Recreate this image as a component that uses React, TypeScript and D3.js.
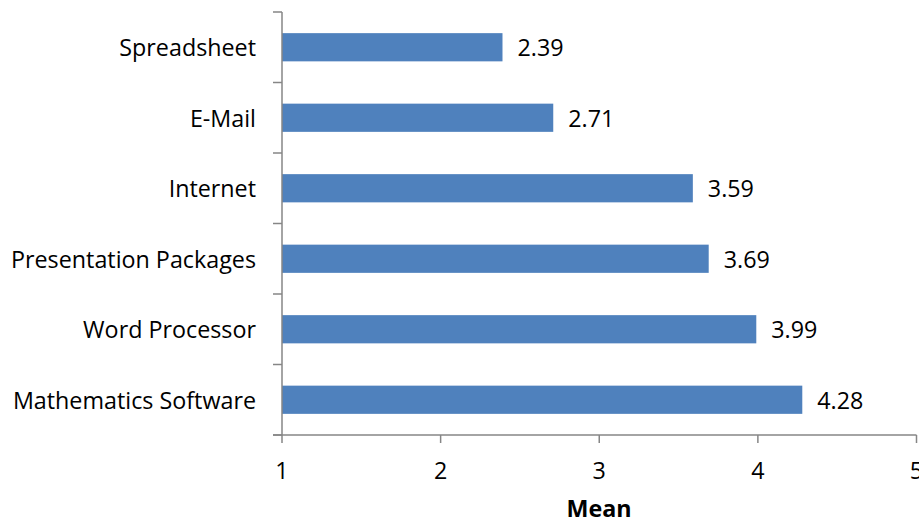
import React from "react";
import * as d3 from "d3";

const categories = ["Spreadsheet", "E-Mail", "Internet", "Presentation Packages", "Word Processor", "Mathematics Software"];
const values = [2.39, 2.71, 3.59, 3.69, 3.99, 4.28];
const xTicks = [1, 2, 3, 4, 5];
const xTitle = "Mean";

export default function App() {
  const W = 919, H = 523;
  const x = d3.scaleLinear().domain([1, 5]).range([282, 916.5]);
  const y = d3.scaleBand<string>().domain(categories).range([12, 435]).paddingInner(0.6).paddingOuter(0.3);
  const yEdges = d3.range(categories.length + 1).map(i => 12 + (i * (435 - 12)) / categories.length);
  const font = "'Open Sans', sans-serif";
  const axisColor = "#868686";
  const fs = 23.3;
  return (
    <svg width={W} height={H} style={{ position: "absolute", left: 0, top: 0 }} fontFamily={font}>
      {categories.map((c, i) => (
        <g key={c}>
          <rect x={x(1)} y={y(c)!} width={x(values[i]) - x(1)} height={y.bandwidth()} fill="#4F81BD" />
          <text x={x(values[i]) + 15} y={y(c)! + y.bandwidth() / 2} dominantBaseline="central" fontSize={fs} fill="#000">
            {values[i].toFixed(2)}
          </text>
          <text x={256} y={y(c)! + y.bandwidth() / 2} dominantBaseline="central" textAnchor="end" fontSize={fs} fill="#000">
            {c}
          </text>
        </g>
      ))}
      <line x1={282} x2={282} y1={12} y2={435} stroke={axisColor} strokeWidth={1.5} />
      {yEdges.map((e, i) => (
        <line key={i} x1={273} x2={282} y1={e} y2={e} stroke={axisColor} strokeWidth={1.5} />
      ))}
      <line x1={273} x2={916.5} y1={435} y2={435} stroke={axisColor} strokeWidth={1.5} />
      {xTicks.map(t => (
        <g key={t}>
          <line x1={x(t)} x2={x(t)} y1={435} y2={443} stroke={axisColor} strokeWidth={1.5} />
          <text x={x(t)} y={470} textAnchor="middle" dominantBaseline="central" fontSize={fs} fill="#000">{t}</text>
        </g>
      ))}
      <text x={599} y={508} textAnchor="middle" dominantBaseline="central" fontSize={fs} fontWeight="bold" fill="#000">{xTitle}</text>
    </svg>
  );
}
